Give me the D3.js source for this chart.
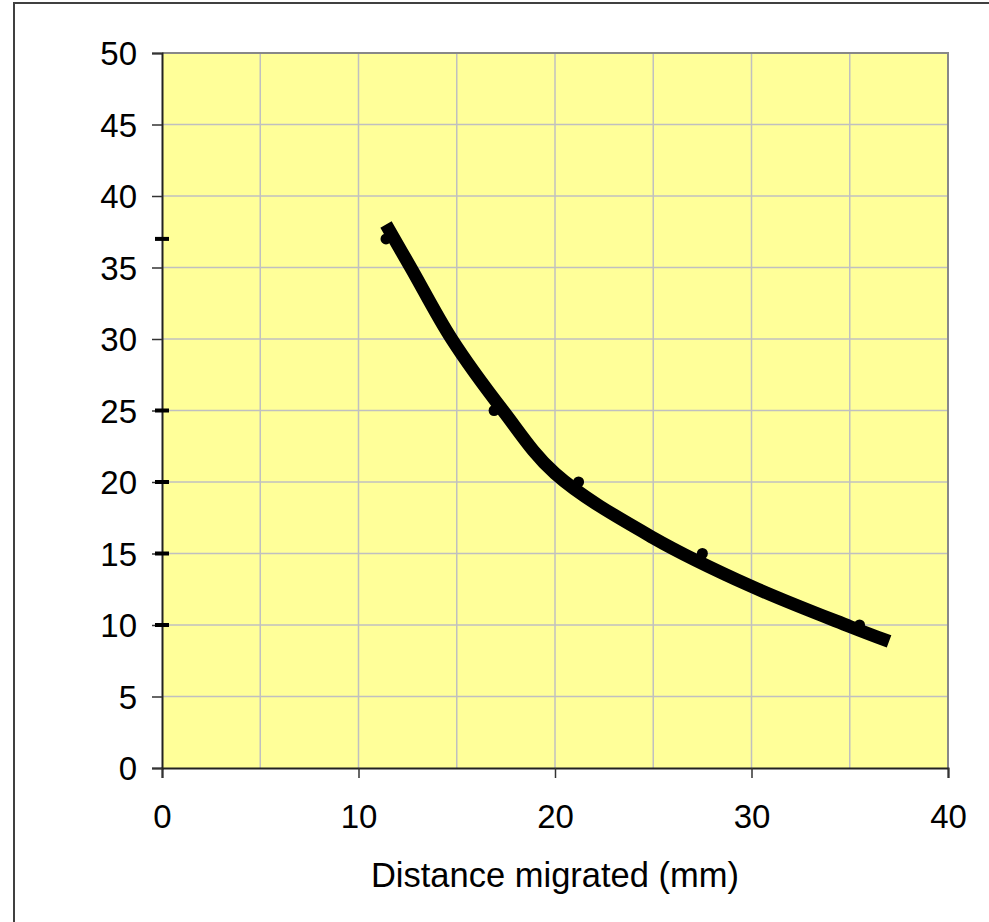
<!DOCTYPE html>
<meta charset="utf-8">
<script src="https://d3js.org/d3.v7.min.js"></script>
<style>
  body { margin: 0; background: #fff; }
  svg { display: block; font-family: "Liberation Sans", Arial, sans-serif; }
  .grid line { stroke: #c0c0c0; stroke-width: 1.5; }
  .tick-label { font-size: 33px; fill: #000; }
  .axis-title { font-size: 34.5px; fill: #000; }
</style>
<body></body>
<script>
  // measured points (distance migrated vs. size)
  let distance = [11.4, 16.9, 21.2, 27.5, 35.5];
  let sizes = [37, 25, 20, 15, 10];

  // trend curve
  let trendX = [11.4, 12.7, 14.74, 17.35, 20, 25, 30, 35, 37.0];
  let trendY = [38.0, 34.9, 30, 25, 20.6, 16.1, 12.7, 9.9, 8.85];

  let xTicks = [0, 10, 20, 30, 40];
  let yTicks = [0, 5, 10, 15, 20, 25, 30, 35, 40, 45, 50];
  let xGrid = [5, 10, 15, 20, 25, 30, 35];
  let yGrid = [5, 10, 15, 20, 25, 30, 35, 40, 45];

  let W = 989, H = 922;
  let margin = { top: 53, right: 41, bottom: 154, left: 162 };
  let width = W - margin.left - margin.right,
    height = H - margin.top - margin.bottom;

  let svg = d3.select("body").append("svg")
    .attr("width", W)
    .attr("height", H);

  // outer chart frame (runs off the right / bottom edge)
  svg.append("rect")
    .attr("x", 14).attr("y", 3)
    .attr("width", 1000).attr("height", 1000)
    .attr("fill", "none")
    .attr("stroke", "#404040")
    .attr("stroke-width", 2);

  let g = svg.append("g")
    .attr("transform", `translate(${margin.left},${margin.top})`);

  let x = d3.scaleLinear().domain([0, 40]).range([0, width]);
  let y = d3.scaleLinear().domain([0, 50]).range([height, 0]);

  g.append("rect")
    .attr("width", width).attr("height", height)
    .attr("fill", "#ffff99");

  let grid = g.append("g").attr("class", "grid");
  grid.selectAll(".vg").data(xGrid).enter().append("line")
    .attr("x1", d => x(d)).attr("x2", d => x(d))
    .attr("y1", 0).attr("y2", height);
  grid.selectAll(".hg").data(yGrid).enter().append("line")
    .attr("y1", d => y(d)).attr("y2", d => y(d))
    .attr("x1", 0).attr("x2", width);

  // top / right border of plot area
  g.append("path")
    .attr("d", `M0,0H${width}V${height}`)
    .attr("fill", "none")
    .attr("stroke", "#888")
    .attr("stroke-width", 2);

  // axes
  let xAxis = d3.axisBottom(x).tickValues(xTicks).tickSize(10).tickFormat(d3.format("d"));
  let yAxis = d3.axisLeft(y).tickValues(yTicks).tickSize(10).tickFormat(d3.format("d"));

  let gx = g.append("g").attr("transform", `translate(0,${height})`).call(xAxis);
  let gy = g.append("g").call(yAxis);

  [gx, gy].forEach(a => {
    a.select(".domain").attr("stroke", "#222").attr("stroke-width", 2);
    a.selectAll(".tick line").attr("stroke", "#333").attr("stroke-width", 1.5);
    a.selectAll(".tick text")
      .attr("class", "tick-label")
      .attr("font-family", null).attr("font-size", null);
  });
  gx.selectAll(".tick text").attr("y", 37).attr("dy", "0.71em");
  gy.selectAll(".tick text").attr("x", -25).attr("dy", "0.36em");

  // dash markers of the same values at x = 0
  g.selectAll(".dash").data(sizes).enter().append("rect")
    .attr("class", "dash")
    .attr("x", x(0) - 7).attr("y", d => y(d) - 2)
    .attr("width", 14).attr("height", 4)
    .attr("fill", "#000");

  // trend curve
  let line = d3.line()
    .x((d, i) => x(trendX[i]))
    .y(d => y(d))
    .curve(d3.curveCatmullRom.alpha(0.5));

  g.append("path")
    .datum(trendY)
    .attr("d", line)
    .attr("fill", "none")
    .attr("stroke", "#000")
    .attr("stroke-width", 13);

  // data points
  g.selectAll(".pt").data(sizes).enter().append("circle")
    .attr("class", "pt")
    .attr("cx", (d, i) => x(distance[i]))
    .attr("cy", d => y(d))
    .attr("r", 5.5)
    .attr("fill", "#000");

  g.append("text")
    .attr("class", "axis-title")
    .attr("x", width / 2)
    .attr("y", 887 - margin.top)
    .attr("text-anchor", "middle")
    .text("Distance migrated (mm)");
</script>
